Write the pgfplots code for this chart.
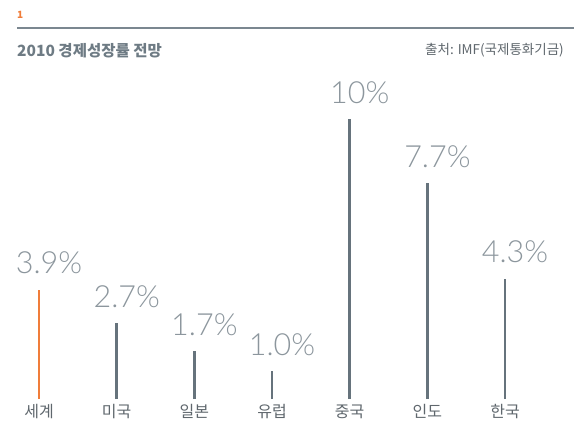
\documentclass[border=0pt]{standalone}
\usepackage{fontspec}
\setmainfont{Noto Sans CJK KR}
\newfontfamily\lightfont{Lato Light}
\usepackage{pgfplots}
\pgfplotsset{compat=1.18}
\definecolor{accent}{HTML}{F07D3A}
\definecolor{barc}{HTML}{66737C}
\definecolor{valc}{HTML}{8C969D}
\definecolor{titc}{HTML}{6E7B84}
\definecolor{txtc}{HTML}{5F676D}
\definecolor{rulec}{HTML}{7B8790}
\begin{document}
\begin{tikzpicture}
\useasboundingbox (0,0) rectangle (574pt,424pt);
% header
\node[anchor=west, inner sep=0pt, text=accent, font=\fontsize{10}{11}\selectfont\bfseries] at (17pt,409pt) {1};
\draw[rulec, line width=1.5pt] (17pt,396pt) -- (574pt,396pt);
\node[anchor=west, inner sep=0pt, text=titc, font=\fontsize{15.5}{17}\selectfont\bfseries] at (17pt,373pt) {2010 경제성장률 전망};
\node[anchor=east, inner sep=0pt, text=txtc, font=\fontsize{13.5}{15}\selectfont] at (564pt,374pt) {출처: IMF(국제통화기금)};
\begin{axis}[
  at={(0.2pt,25pt)}, anchor=south west,
  scale only axis, width=543.7pt, height=336pt,
  xmin=-0.5, xmax=6.5, ymin=0, ymax=12,
  clip=false,
  axis line style={draw=none},
  major tick style={draw=none},
  ytick=\empty,
  xtick={0,...,6},
  xticklabels={세계, 미국, 일본, 유럽, 중국, 인도, 한국},
  xticklabel style={text=txtc, font=\fontsize{16}{18}\selectfont, yshift=-2pt},
  point meta=explicit symbolic,
  nodes near coords,
  nodes near coords style={anchor=base, yshift=16pt, xshift=10pt, text=valc,
    font=\lightfont\fontsize{30.5}{32}\selectfont},
]
\addplot[ycomb, line width=2.5pt, color=accent, mark=none] coordinates {(0,3.9) [3.9\%]};
\addplot[ycomb, line width=2.5pt, color=barc, mark=none] coordinates {
  (1,2.7) [2.7\%]
  (2,1.7) [1.7\%]
  (3,1.0) [1.0\%]
  (4,10) [10\%]
  (5,7.7) [7.7\%]
  (6,4.3) [4.3\%]
};
\end{axis}
\end{tikzpicture}
\end{document}
